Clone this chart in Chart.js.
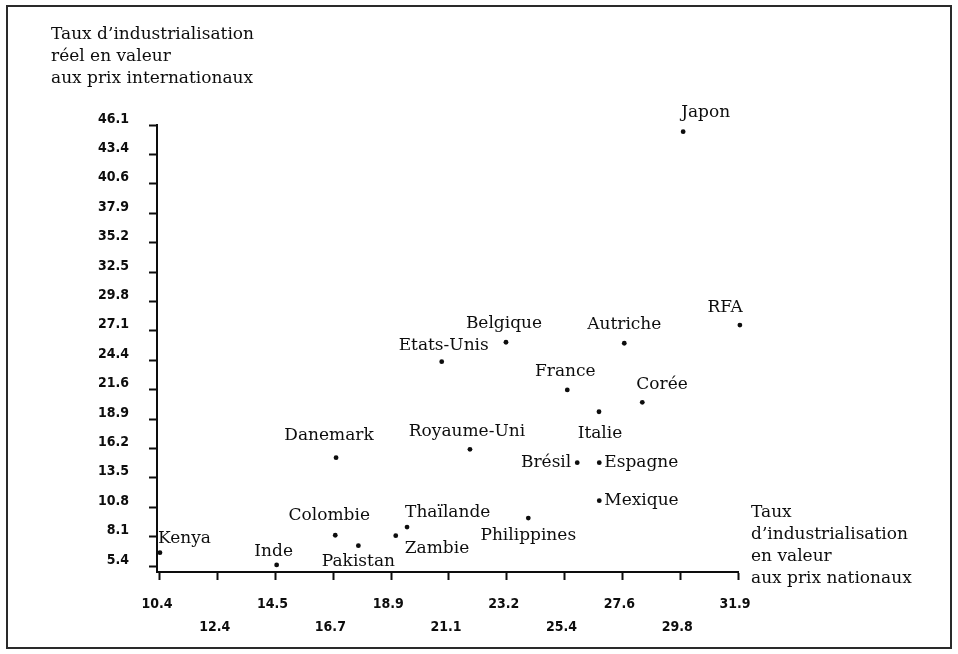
<!DOCTYPE html>
<html lang="fr">
<head>
<meta charset="utf-8">
<script src="https://cdn.jsdelivr.net/npm/chart.js@4.4.1/dist/chart.umd.min.js"></script>
<style>
  html, body { margin: 0; padding: 0; background: #fff; }
  #wrap { position: relative; width: 958px; height: 654px; }
</style>
</head>
<body>
<div id="wrap"><canvas id="c" width="958" height="654"></canvas></div>
<script>
// ---- Data ----
const countries = ['Japon','RFA','Autriche','Belgique','Etats-Unis','France','Corée','Italie',
  'Royaume-Uni','Brésil','Espagne','Mexique','Philippines','Danemark','Colombie','Pakistan',
  'Zambie','Thaïlande','Kenya','Inde'];
const nationalRate = [29.86, 31.97, 27.67, 23.27, 20.88, 25.55, 28.34, 26.73,
  21.93, 25.92, 26.74, 26.74, 24.10, 16.95, 16.92, 17.78,
  19.17, 19.59, 10.40, 14.74];
const internationalRate = [45.48, 27.64, 25.96, 26.05, 24.26, 21.65, 20.51, 19.64,
  16.17, 14.94, 14.94, 11.43, 9.83, 15.40, 8.24, 7.28,
  8.20, 9.00, 6.63, 5.50];
const xTickLabels = ['10.4','12.4','14.5','16.7','18.9','21.1','23.2','25.4','27.6','29.8','31.9'];
const yTickLabels = ['5.4','8.1','10.8','13.5','16.2','18.9','21.6','24.4','27.1','29.8','32.5','35.2','37.9','40.6','43.4','46.1'];
const yTitle = ['Taux d\u2019industrialisation', 'réel en valeur', 'aux prix internationaux'];
const xTitle = ['Taux', 'd\u2019industrialisation', 'en valeur', 'aux prix nationaux'];

// ---- Label placement (style only): [align, dx, dy] relative to the point ----
const labelPlacement = {
  'Japon': ['left', -2, -15], 'RFA': ['right', 3, -13], 'Autriche': ['center', 0, -14],
  'Belgique': ['center', -2, -14], 'Etats-Unis': ['center', 2, -12], 'France': ['center', -2, -14],
  'Corée': ['left', -6, -13], 'Italie': ['center', 1, 26], 'Royaume-Uni': ['center', -3, -13],
  'Brésil': ['right', -6, 4], 'Espagne': ['left', 5, 4], 'Mexique': ['left', 5, 4],
  'Philippines': ['center', 0, 22], 'Danemark': ['center', -7, -18], 'Colombie': ['center', -6, -15],
  'Pakistan': ['center', 0, 20], 'Zambie': ['left', 9, 17], 'Thaïlande': ['left', -2, -10],
  'Kenya': ['left', -2, -10], 'Inde': ['center', -3, -9]
};

const INK = '#0d0d0d';
const SERIF = '17px "DejaVu Serif", "Liberation Serif", serif';
const TICKFONT = { family: '"DejaVu Sans Condensed", "Liberation Sans Narrow", sans-serif', weight: 'bold', size: 14 };

const xFirst = parseFloat(xTickLabels[0]), xLast = parseFloat(xTickLabels[xTickLabels.length - 1]);
const yFirst = parseFloat(yTickLabels[0]), yLast = parseFloat(yTickLabels[yTickLabels.length - 1]);

const decorations = {
  id: 'decorations',
  beforeDraw(chart) {
    const ctx = chart.ctx;
    ctx.save();
    ctx.fillStyle = '#fff';
    ctx.fillRect(0, 0, chart.width, chart.height);
    ctx.strokeStyle = '#2a2a2a';
    ctx.lineWidth = 2;
    ctx.strokeRect(7, 6, chart.width - 14, chart.height - 12);
    ctx.restore();
  },
  afterDatasetsDraw(chart) {
    const ctx = chart.ctx;
    const a = chart.chartArea;
    const meta = chart.getDatasetMeta(0);
    ctx.save();
    ctx.font = SERIF;
    ctx.fillStyle = INK;
    ctx.textBaseline = 'alphabetic';
    meta.data.forEach((pt, i) => {
      const name = countries[i];
      const p = labelPlacement[name] || ['center', 0, -12];
      ctx.textAlign = p[0];
      ctx.fillText(name, pt.x + p[1], pt.y + p[2]);
    });
    ctx.textAlign = 'left';
    yTitle.forEach((t, i) => ctx.fillText(t, a.left - 106, a.top - 86 + i * 22));
    xTitle.forEach((t, i) => ctx.fillText(t, a.right + 13, a.bottom - 55 + i * 22));
    ctx.restore();
  }
};

new Chart(document.getElementById('c'), {
  type: 'scatter',
  data: {
    datasets: [{
      data: countries.map((c, i) => ({ x: nationalRate[i], y: internationalRate[i] })),
      backgroundColor: INK,
      borderColor: INK,
      pointRadius: 2.4,
      pointHoverRadius: 2.4,
      borderWidth: 0,
      clip: false
    }]
  },
  options: {
    responsive: false,
    animation: false,
    events: [],
    layout: { padding: { top: 125, right: 220, left: 0, bottom: 0 } },
    plugins: { legend: { display: false }, tooltip: { enabled: false } },
    scales: {
      x: {
        type: 'linear',
        min: 10.29,
        max: xLast,
        afterBuildTicks(scale) {
          const step = (xLast - xFirst) / (xTickLabels.length - 1);
          scale.ticks = xTickLabels.map((l, i) => ({ value: xFirst + i * step }));
        },
        afterFit(scale) { scale.height = 82; },
        grid: { display: true, drawOnChartArea: false, drawTicks: true, tickLength: 8, tickWidth: 2, tickColor: INK },
        border: { display: true, color: INK, width: 2 },
        ticks: {
          autoSkip: false,
          maxRotation: 0,
          padding: 13,
          labelOffset: -3,
          color: INK,
          font: Object.assign({}, TICKFONT, { lineHeight: 1.65 }),
          callback: (v, i) => (i % 2 === 0 ? [xTickLabels[i]] : ['', xTickLabels[i]])
        }
      },
      y: {
        type: 'linear',
        min: 4.85,
        max: yLast,
        afterBuildTicks(scale) {
          const step = (yLast - yFirst) / (yTickLabels.length - 1);
          scale.ticks = yTickLabels.map((l, i) => ({ value: yFirst + i * step }));
        },
        afterFit(scale) { scale.width = 157; },
        grid: { display: true, drawOnChartArea: false, drawTicks: true, tickLength: 8, tickWidth: 2, tickColor: INK },
        border: { display: true, color: INK, width: 2 },
        ticks: {
          autoSkip: false,
          padding: 20,
          labelOffset: -6,
          color: INK,
          font: TICKFONT,
          callback: (v, i) => yTickLabels[i]
        }
      }
    }
  },
  plugins: [decorations]
});
</script>
</body>
</html>
